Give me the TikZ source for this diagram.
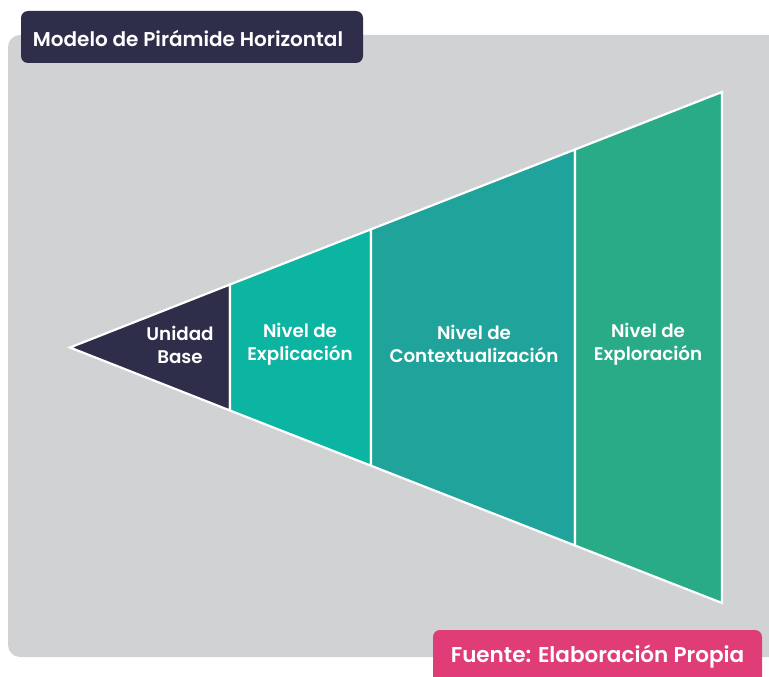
\documentclass[tikz,border=0pt]{standalone}
\usepackage{fontspec}
\setmainfont{Poppins}[BoldFont={Poppins SemiBold}]
\definecolor{bggrey}{HTML}{D1D2D4}
\definecolor{navy}{HTML}{2E2E4A}
\definecolor{tealA}{HTML}{0BB5A2}
\definecolor{tealB}{HTML}{1FA39A}
\definecolor{tealC}{HTML}{2AAB87}
\definecolor{pinkC}{HTML}{E03C78}
\begin{document}
\begin{tikzpicture}[x=1pt,y=-1pt,
  seg/.style={draw=white,line width=2.2pt,line join=miter},
  lbl/.style={text=white,font=\bfseries\fontsize{18.3}{22.5}\selectfont,align=center,inner sep=0pt}]
\useasboundingbox (0,0) rectangle (769,677);
% grey panel
\fill[bggrey,rounded corners=12pt] (8,35) rectangle (800,657);
% pyramid segments
\coordinate (tip) at (70,347.5);
\filldraw[seg,fill=navy] (tip) -- (230,284.5) -- (230,410.5) -- cycle;
\filldraw[seg,fill=tealA] (230,284.5) -- (371,229.3) -- (371,465.7) -- (230,410.5) -- cycle;
\filldraw[seg,fill=tealB] (371,229.3) -- (575,149.5) -- (575,545.5) -- (371,465.7) -- cycle;
\filldraw[seg,fill=tealC] (575,149.5) -- (722,92) -- (722,603) -- (575,545.5) -- cycle;
% labels
\node[lbl] (ub) at (180,345) {Unidad\\Base};
\node[lbl] (ne) at (300,344) {Nivel de\\Explicación};
\node[lbl] (nc) at (474,344) {Nivel de\\Contextualización};
\node[lbl] (nx) at (648,344) {Nivel de\\Exploración};
% title
\fill[navy,rounded corners=7pt] (21,11) rectangle (363,63);
\node[text=white,font=\bfseries\fontsize{20}{24}\selectfont,inner sep=0pt] (title) at (188,38.5) {Modelo de Pirámide Horizontal};
% source
\fill[pinkC,rounded corners=7pt] (433,630) rectangle (762,690);
\node[text=white,font=\bfseries\fontsize{21.5}{25}\selectfont,inner sep=0pt] (src) at (597.5,657) {Fuente: Elaboración Propia};
\end{tikzpicture}
\end{document}
